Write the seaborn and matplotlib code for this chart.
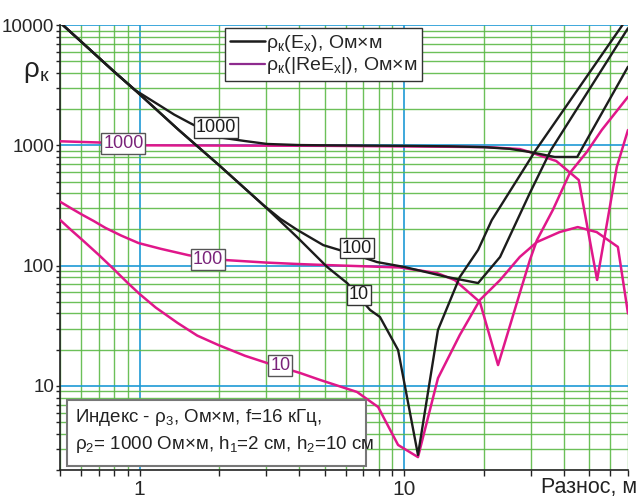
import matplotlib
matplotlib.use("Agg")
import matplotlib.pyplot as plt
import seaborn as sns
import pandas as pd
from matplotlib.ticker import LogLocator, NullFormatter, FuncFormatter
from matplotlib.lines import Line2D
from matplotlib.patches import Rectangle

# ---------------- data ----------------
ex_1000_x = [0.5, 0.6, 0.7, 0.8, 0.96, 1.08, 1.2, 1.35, 1.55, 1.97, 2.5, 3.03, 4, 5, 10, 15, 20, 25, 29.8,
             37, 45, 55, 70]
ex_1000_y = [10500, 7300, 5360, 4100, 2880, 2450, 2120, 1800, 1530, 1170, 1085, 1026, 1005, 1000, 990, 980,
             965, 935, 880, 800, 800, 1755, 4500]

ex_100_x = [0.5, 0.6, 0.7, 0.8, 0.96, 1.4, 2.0, 2.93, 3.4, 3.94, 4.94, 6.6, 7.89, 10, 14.5, 19.0, 23.0,
            29.8, 35.8, 70]
ex_100_y = [10500, 7300, 5360, 4100, 2880, 1350, 680, 319, 245, 198, 148, 122, 107, 97.4, 80.4, 71.6, 118,
            401, 914, 9400]

ex_10_x = [0.5, 0.6, 0.7, 0.8, 0.96, 1.4, 2.0, 2.93, 3.94, 5.11, 6.08, 7.42, 8.09, 9.47, 11.26, 13.4, 16.2,
           19.0, 21.4, 31.4, 70]
ex_10_y = [10500, 7300, 5360, 4100, 2880, 1350, 680, 319, 172, 97.4, 71.6, 42.8, 37.4, 19.9, 2.67, 29.2,
           80.4, 135, 239, 914, 11650]

re_1000_x = [0.5, 0.87, 1.0, 2, 5, 11.4, 20.5, 27.3, 29.8, 37.5, 45.6, 53.5, 63.5, 70]
re_1000_y = [1080, 1040, 1000, 995, 990, 977, 966, 931, 879, 740, 515, 76, 661, 1340]

re_100_x = [0.5, 0.55, 0.608, 0.67, 0.742, 0.85, 0.99, 1.2, 1.53, 1.81, 2.14, 3.0, 4.0, 5.11, 9.6, 13.3,
            15.5, 19.3, 22.6, 27.3, 29.8, 31.7, 36.4, 42.2, 48.9, 55.7, 70]
re_100_y = [340, 300, 264, 235, 206, 178, 154, 138, 122, 115, 111, 106, 103, 101, 96.5, 86.7,
            75.8, 49.8, 14.9, 59, 111, 163, 290, 589, 879, 1340, 2530]

re_10_x = [0.5, 0.55, 0.608, 0.7, 0.79, 0.9, 1.0, 1.15, 1.39, 1.65, 1.98, 2.5, 3.03, 4.04, 4.81, 6.63,
           7.96, 9.47, 11.26, 13.4, 16.2, 19.3, 23.0, 27.3, 31.7, 38.6, 45.2, 53.3, 64.1, 70]
re_10_y = [240, 198, 163, 123, 95.5, 72, 58, 44.8, 33.4, 26.2, 21.9, 17.8, 15.5, 12.8, 11.2, 8.9,
           6.68, 3.23, 2.56, 11.6, 26.5, 51.8, 75.8, 118, 157, 190, 209, 190, 143, 40]

# curve labels (text, x, y)
ex_labels = [("1000", 1.94, 1414), ("100", 6.6, 140), ("10", 6.75, 57)]
re_labels = [("1000", 0.868, 1038), ("100", 1.81, 113), ("10", 3.4, 14.8)]

x_ticks = [1, 10]
y_ticks = [10, 100, 1000, 10000]

legend_labels = [r"ρ$_\mathregular{к}$(E$_\mathregular{x}$), Ом×м",
                 r"ρ$_\mathregular{к}$(|ReE$_\mathregular{x}$|), Ом×м"]
note_lines = [r"Индекс - ρ$_\mathregular{3}$, Ом×м, f=16 кГц,",
              r"ρ$_\mathregular{2}$= 1000 Ом×м, h$_\mathregular{1}$=2 см, h$_\mathregular{2}$=10 см"]

# ---------------- style ----------------
sns.set_theme(style="white")
plt.rcParams["font.family"] = ["Liberation Sans", "DejaVu Sans"]
plt.rcParams["mathtext.fontset"] = "custom"
plt.rcParams["mathtext.rm"] = "Liberation Sans"
plt.rcParams["mathtext.it"] = "Liberation Sans:italic"
plt.rcParams["mathtext.bf"] = "Liberation Sans:bold"

BLACK = "#1c1c1c"
MAGENTA = "#e0178a"
PURPLE = "#8e2b8e"
LABEL_PURPLE = "#7a237a"
GREEN = "#5cb947"
BLUE = "#1e9ad6"

fig = plt.figure(figsize=(6.37, 4.99), dpi=100)
ax = fig.add_axes([60 / 637, 29 / 499, 568 / 637, 445 / 499])
ax.set_xscale("log")
ax.set_yscale("log")

ex_curves = [(ex_1000_x, ex_1000_y), (ex_100_x, ex_100_y), (ex_10_x, ex_10_y)]
re_curves = [(re_1000_x, re_1000_y), (re_100_x, re_100_y), (re_10_x, re_10_y)]

for xs, ys in re_curves:
    sns.lineplot(x=xs, y=ys, sort=False, estimator=None, color=MAGENTA, lw=1.8, ax=ax, zorder=3)
for xs, ys in ex_curves:
    sns.lineplot(x=xs, y=ys, sort=False, estimator=None, color=BLACK, lw=1.7, ax=ax, zorder=4)

ax.set_xlim(0.5, 70)
ax.set_ylim(2, 10000)

# grid
ax.xaxis.set_minor_locator(LogLocator(base=10, subs=(2, 3, 4, 5, 6, 7, 8, 9), numticks=20))
ax.yaxis.set_minor_locator(LogLocator(base=10, subs=(2, 3, 4, 5, 6, 7, 8, 9), numticks=20))
ax.xaxis.set_minor_formatter(NullFormatter())
ax.yaxis.set_minor_formatter(NullFormatter())
ax.set_xticks(x_ticks)
ax.set_yticks(y_ticks)
fmt = FuncFormatter(lambda v, p: "%g" % v)
ax.xaxis.set_major_formatter(fmt)
ax.yaxis.set_major_formatter(fmt)

ax.set_axisbelow(True)
ax.grid(which="minor", color=GREEN, lw=1.0, alpha=0.9)
ax.grid(which="major", color=BLUE, lw=1.2)

for s in ["top", "right"]:
    ax.spines[s].set_visible(False)
for s in ["left", "bottom"]:
    ax.spines[s].set_color("#222")
    ax.spines[s].set_linewidth(1.2)

ax.tick_params(axis="y", which="both", direction="out", length=3, width=1, color="#222",
               left=True, pad=1, labelsize=13.5)
ax.tick_params(axis="x", which="both", direction="out", length=4, width=1, color="#222",
               bottom=True, pad=3, labelsize=15)
ax.set_xlabel("")
ax.set_ylabel("")

# curve labels
for t, x, y in ex_labels:
    ax.text(x, y, t, fontsize=13, color=BLACK, ha="center", va="center", zorder=6,
            bbox=dict(boxstyle="square,pad=0.1", fc="white", ec="#333", lw=1))
for t, x, y in re_labels:
    ax.text(x, y, t, fontsize=13, color=LABEL_PURPLE, ha="center", va="center", zorder=6,
            bbox=dict(boxstyle="square,pad=0.1", fc="white", ec="#555", lw=1))

# legend
handles = [Line2D([], [], color=BLACK, lw=1.8), Line2D([], [], color=PURPLE, lw=1.6)]
leg = ax.legend(handles, legend_labels, loc="upper left", bbox_to_anchor=(0.29, 0.994),
                frameon=True, fancybox=False, framealpha=1, edgecolor="#333",
                fontsize=14, handlelength=1.8, handletextpad=0.05, borderpad=0.25,
                labelspacing=0.1, borderaxespad=0)
leg.get_frame().set_linewidth(1.0)
leg.set_zorder(10)

# note box
ax.add_patch(Rectangle((0.0123, 0.009), 0.527, 0.148, transform=ax.transAxes,
                       fc="white", ec="#777", lw=1.5, zorder=8))
ax.text(0.027, 0.117, note_lines[0], transform=ax.transAxes, fontsize=13.5, color="#222",
        ha="left", va="center", zorder=9)
ax.text(0.027, 0.058, note_lines[1], transform=ax.transAxes, fontsize=13.5, color="#222",
        ha="left", va="center", zorder=9)

# axis titles
fig.text(23 / 637, 1 - 72 / 499, r"ρ$_\mathregular{к}$", fontsize=20, color="#222",
         ha="left", va="center")
fig.text(637 / 637, 1 - 488 / 499, "Разнос, м", fontsize=15.5, color="#222",
         ha="right", va="center")

fig.savefig("out.png", dpi=100)
